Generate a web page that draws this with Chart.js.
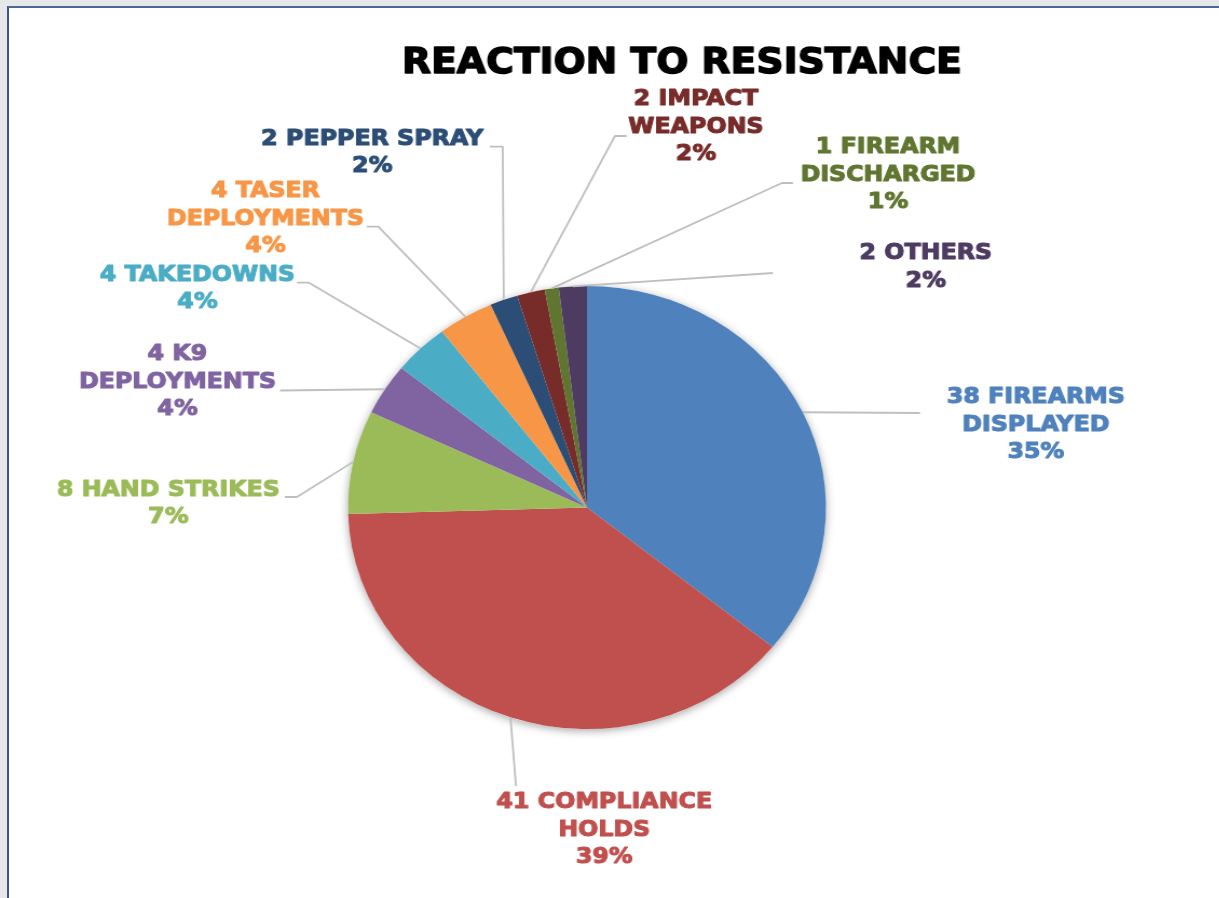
<!DOCTYPE html>
<html>
<head>
<meta charset="utf-8">
<script src="https://cdn.jsdelivr.net/npm/chart.js@4.4.0/dist/chart.umd.min.js"></script>
<style>
  html, body { margin: 0; padding: 0; width: 1219px; height: 898px; overflow: hidden; background: #e6e7e9; }
  #frame { position: absolute; left: 7px; top: 6px; right: 0; bottom: 0; background: #fff;
           border-left: 2px solid #3d5583; border-top: 2px solid #4d6894; }
  /* the source picture is stretched sideways, so the canvas is too */
  #chart { position: absolute; left: 0; top: 0; transform-origin: 0 0; transform: scaleX(1.079); }
</style>
</head>
<body>
<div id="frame"></div>
<canvas id="chart" width="1130" height="898" style="width:1130px;height:898px"></canvas>
<script>
'use strict';

const titleText = 'REACTION TO RESISTANCE';
const categories = [
  ['FIREARMS', 'DISPLAYED'],
  ['COMPLIANCE', 'HOLDS'],
  ['HAND STRIKES'],
  ['K9', 'DEPLOYMENTS'],
  ['TAKEDOWNS'],
  ['TASER', 'DEPLOYMENTS'],
  ['PEPPER SPRAY'],
  ['IMPACT', 'WEAPONS'],
  ['FIREARM', 'DISCHARGED'],
  ['OTHERS']
];
const counts = [38, 41, 8, 4, 4, 4, 2, 2, 1, 2];
const percents = ['35%', '39%', '7%', '4%', '4%', '4%', '2%', '2%', '1%', '2%'];
const colors = ['#4f81bd', '#c0504d', '#9bbb59', '#8064a2', '#4bacc6',
                '#f79646', '#2c4d75', '#772c2a', '#5f7530', '#4d3b62'];

// label layout, px from the pie centre: text block centre, leader end, leader elbow
const labelPos = [[416, -82.5], [16, 322.5], [-388, -3.5], [-379.5, -125.5], [-361, -218.5],
                  [-298, -288.5], [-199, -354.5], [101, -380.5], [279, -332.5], [314, -240]];
const leaderEnd = [[308.6, -94.5], [-65.8, 278.5], [-280, -10.5], [-284.5, -117], [-268.8, -224.8],
                   [-204.2, -280.8], [-89.9, -360.8], [36.8, -371.5], [190.9, -324.5], [172.4, -234.5]];
const leaderElbow = [null, null, [-268.8, -10.5], null, [-257.6, -224.8],
                     [-193.4, -280.8], [-78.1, -360.8], [25.9, -371.5], [180.7, -324.5], null];

const labelFont = 'bold 22px "DejaVu Sans"';
const lineHeight = 27.5;

const pieShadow = {
  id: 'pieShadow',
  beforeDatasetsDraw(chart) {
    const arc = chart.getDatasetMeta(0).data[0];
    const ctx = chart.ctx;
    ctx.save();
    ctx.shadowColor = 'rgba(0,0,0,0.35)';
    ctx.shadowBlur = 9;
    ctx.shadowOffsetY = 2;
    ctx.fillStyle = '#fff';
    ctx.beginPath();
    ctx.arc(arc.x, arc.y, arc.outerRadius, 0, Math.PI * 2);
    ctx.fill();
    ctx.restore();
  }
};

// heavy text: fill plus a thin stroke of the same colour
function heavyText(ctx, t, x, y, w) {
  ctx.lineWidth = w;
  ctx.lineJoin = 'round';
  ctx.strokeText(t, x, y);
  ctx.fillText(t, x, y);
}

const pieLabels = {
  id: 'pieLabels',
  afterDatasetsDraw(chart) {
    const ctx = chart.ctx;
    const arcs = chart.getDatasetMeta(0).data;
    const cx = arcs[0].x, cy = arcs[0].y;

    ctx.save();
    // title
    ctx.fillStyle = ctx.strokeStyle = '#000';
    ctx.font = 'bold 35px "DejaVu Sans"';
    ctx.textAlign = 'center';
    ctx.textBaseline = 'middle';
    heavyText(ctx, titleText, cx + 88, cy - 444, 1.4);

    arcs.forEach((arc, i) => {
      const p = arc.getProps(['startAngle', 'endAngle', 'outerRadius'], true);
      const mid = (p.startAngle + p.endAngle) / 2;
      const sx = cx + Math.cos(mid) * p.outerRadius;
      const sy = cy + Math.sin(mid) * p.outerRadius;

      // leader line
      ctx.strokeStyle = '#bfbfbf';
      ctx.lineWidth = 1.8;
      ctx.beginPath();
      ctx.moveTo(sx, sy);
      if (leaderElbow[i]) ctx.lineTo(cx + leaderElbow[i][0], cy + leaderElbow[i][1]);
      ctx.lineTo(cx + leaderEnd[i][0], cy + leaderEnd[i][1]);
      ctx.stroke();

      // text block
      const lines = [counts[i] + ' ' + categories[i][0], ...categories[i].slice(1), percents[i]];
      ctx.fillStyle = ctx.strokeStyle = colors[i];
      ctx.font = labelFont;
      const bx = cx + labelPos[i][0], by = cy + labelPos[i][1];
      lines.forEach((t, k) => {
        heavyText(ctx, t, bx, by + (k - (lines.length - 1) / 2) * lineHeight, 1.1);
      });
    });
    ctx.restore();
  }
};

new Chart(document.getElementById('chart').getContext('2d'), {
  type: 'pie',
  data: {
    labels: categories.map(c => c.join(' ')),
    datasets: [{
      data: counts,
      backgroundColor: colors,
      borderWidth: 0,
      hoverOffset: 0
    }]
  },
  options: {
    responsive: false,
    animation: false,
    layout: { padding: { left: 322.5, top: 286, right: 364.5, bottom: 169 } },
    plugins: {
      legend: { display: false },
      title: { display: false },
      tooltip: { enabled: false }
    }
  },
  plugins: [pieShadow, pieLabels]
});
</script>
</body>
</html>
